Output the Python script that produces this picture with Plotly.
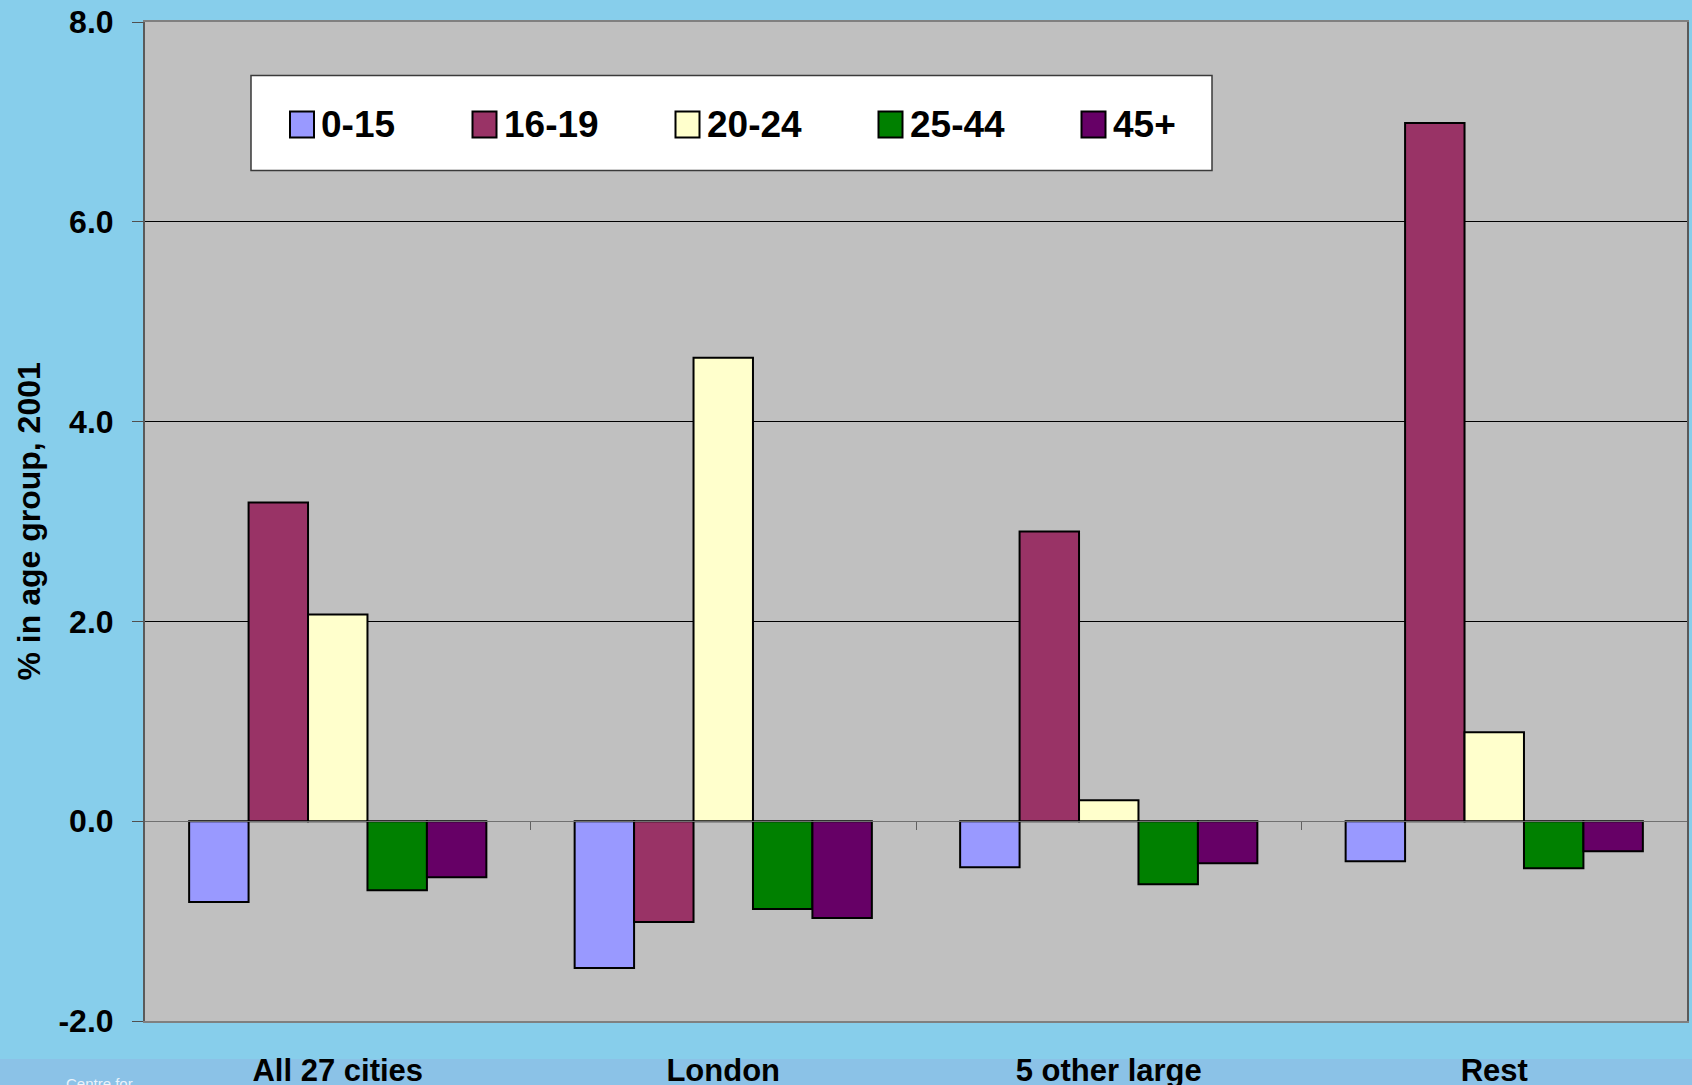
import plotly.graph_objects as go

# Population share change by age group, 2001
categories = ["All 27 cities", "London", "5 other large", "Rest"]
age_groups = ["0-15", "16-19", "20-24", "25-44", "45+"]
v_0_15 = [-0.81, -1.47, -0.46, -0.40]
v_16_19 = [3.19, -1.01, 2.90, 6.99]
v_20_24 = [2.07, 4.64, 0.21, 0.89]
v_25_44 = [-0.69, -0.88, -0.63, -0.47]
v_45_plus = [-0.56, -0.97, -0.42, -0.30]
y_ticks = [-2.0, 0.0, 2.0, 4.0, 6.0, 8.0]

series = [v_0_15, v_16_19, v_20_24, v_25_44, v_45_plus]
colors = ["#9999FF", "#993366", "#FFFFCC", "#008000", "#660066"]

W, H = 1692, 1085
ML, MR, MT, MB = 145, 5, 22, 64
PW, PH = W - ML - MR, H - MT - MB
FONT = "Arial, Liberation Sans, sans-serif"


def px_x(px):
    return (px - ML) / PW


def px_y(py):
    return (H - MB - py) / PH


fig = go.Figure()
for name, vals, col in zip(age_groups, series, colors):
    fig.add_trace(go.Bar(
        x=categories, y=vals, name=name,
        marker=dict(color=col, line=dict(color="black", width=2)),
        showlegend=False,
    ))

# helper axis drawn along the zero line, with ticks between categories
fig.add_trace(go.Scatter(x=[None], y=[None], xaxis="x2", showlegend=False,
                         hoverinfo="skip"))

shapes = []
annotations = []

# legend box
shapes.append(dict(type="rect", xref="paper", yref="paper",
                   x0=px_x(251), x1=px_x(1212), y0=px_y(170.5), y1=px_y(75.5),
                   fillcolor="white", line=dict(color="#3a3a3a", width=1.5),
                   layer="above"))
swatch_left = [290, 472.5, 675.5, 878.5, 1081.5]
for name, col, sx in zip(age_groups, colors, swatch_left):
    shapes.append(dict(type="rect", xref="paper", yref="paper",
                       x0=px_x(sx), x1=px_x(sx + 24),
                       y0=px_y(137.5), y1=px_y(111.5),
                       fillcolor=col, line=dict(color="black", width=2),
                       layer="above"))
    annotations.append(dict(text="<b>%s</b>" % name, xref="paper", yref="paper",
                            x=px_x(sx + 29), y=px_y(124.5),
                            xanchor="left", yanchor="middle", showarrow=False,
                            font=dict(family=FONT, size=37, color="black"),
                            ))

# lower band of the slide
shapes.append(dict(type="rect", xref="paper", yref="paper",
                   x0=px_x(0), x1=px_x(W), y0=px_y(H + 5), y1=px_y(1059),
                   fillcolor="#8BC2E7", line=dict(width=0), layer="below"))
annotations.append(dict(text="Centre for", xref="paper", yref="paper",
                        x=px_x(64), y=px_y(1073), xanchor="left", yanchor="top",
                        showarrow=False,
                        font=dict(family=FONT, size=15, color="#EAF3FA")))

# y axis title
annotations.append(dict(text="<b>% in age group, 2001</b>", xref="paper",
                        yref="paper", x=px_x(28), y=0.5, textangle=-90,
                        xanchor="center", yanchor="middle", showarrow=False,
                        font=dict(family=FONT, size=32, color="black")))

fig.update_layout(
    width=W, height=H, autosize=False,
    margin=dict(l=ML, r=MR, t=MT, b=MB, pad=0, autoexpand=False),
    paper_bgcolor="#87CEEB", plot_bgcolor="#C0C0C0",
    barmode="group", bargap=0.229, bargroupgap=0,
    font=dict(family=FONT, color="black"),
    showlegend=False,
    shapes=shapes, annotations=annotations,
    xaxis=dict(
        type="category", categoryorder="array", categoryarray=categories,
        range=[-0.5, 3.5], automargin=False,
        showgrid=False, zeroline=False, ticks="",
        showline=True, mirror=True, linecolor="#808080", linewidth=2,
        tickfont=dict(family=FONT, size=31, color="black", weight="bold"),
        ticklabelstandoff=21,
    ),
    xaxis2=dict(
        overlaying="x", anchor="free", position=0.2, range=[-0.5, 3.5],
        automargin=False,
        tickvals=[0.5, 1.5, 2.5], ticks="outside", ticklen=8,
        tickcolor="#606060", tickwidth=1,
        showline=True, linecolor="#707070", linewidth=1,
        showgrid=False, zeroline=False, showticklabels=False,
    ),
    yaxis=dict(
        range=[-2, 8], tickvals=y_ticks,
        ticktext=["%.1f" % v for v in y_ticks],
        automargin=False,
        showgrid=True, gridcolor="black", gridwidth=1,
        zeroline=False,
        showline=True, mirror=True, linecolor="#5a5a5a", linewidth=2,
        ticks="outside", ticklen=11, tickcolor="#505050", tickwidth=1,
        tickfont=dict(family=FONT, size=32, color="black", weight="bold"),
        ticklabelstandoff=12,
    ),
)

fig.write_html("out.html")
